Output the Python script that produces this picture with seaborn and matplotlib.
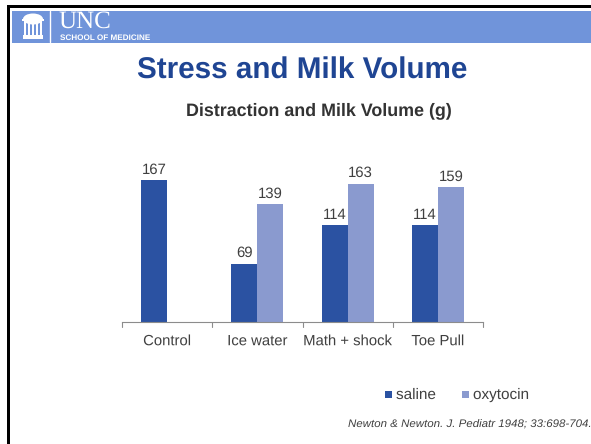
import matplotlib
matplotlib.use("Agg")
import matplotlib.pyplot as plt
from matplotlib.patches import Ellipse, Rectangle
import matplotlib.patheffects as pe
import pandas as pd
import seaborn as sns

categories = ["Control", "Ice water", "Math + shock", "Toe Pull"]
saline = [167, 69, 114, 114]
oxytocin = [None, 139, 163, 159]
treatments = ["saline", "oxytocin"]
colors = ["#2B52A2", "#8A9ACF"]

W, H = 591, 444
sns.set_theme(style="white")
plt.rcParams["font.family"] = ["Liberation Sans", "DejaVu Sans"]
plt.rcParams["text.hinting"] = "no_hinting"

# Outline rendering keeps labels on a common baseline regardless of their glyphs
as_path = [pe.Normal()]

df = pd.DataFrame({
    "stressor": categories * 2,
    "treatment": ["saline"] * 4 + ["oxytocin"] * 4,
    "grams": saline + oxytocin,
})

fig = plt.figure(figsize=(W / 100, H / 100), dpi=100, facecolor="white")

# Slide frame and header band
bg = fig.add_axes([0, 0, 1, 1], zorder=0)
bg.set_xlim(0, W)
bg.set_ylim(H, 0)
bg.axis("off")
bg.add_patch(Rectangle((7, 5), W - 7, 3, color="black", lw=0))
bg.add_patch(Rectangle((7, 5), 3, H - 5, color="black", lw=0))
bg.add_patch(Rectangle((12, 11), W - 12, 32, color="#7094DA", lw=0))

# Old Well emblem in the header
bg.add_patch(Ellipse((33, 19), 20, 11, color="white", lw=0))
bg.add_patch(Rectangle((22, 19), 22, 2, color="white", lw=0))
for col_x in [24, 28, 32, 36, 40]:
    bg.add_patch(Rectangle((col_x, 21), 2.2, 14, color="white", lw=0))
bg.add_patch(Rectangle((23, 35), 20, 4, color="white", lw=0))
bg.plot([49.5, 49.5], [11, 42], color="white", lw=1)
bg.text(58.5, 28, "UNC", color="white", fontsize=18, family="Liberation Serif", va="baseline")
bg.text(60, 38, "SCHOOL OF MEDICINE", color="white", fontsize=5.85, fontweight="bold", va="center")

bg.text(302, 71, "Stress and Milk Volume", color="#1F4593", fontsize=21.3,
        fontweight="bold", ha="center", va="center")
bg.text(318.5, 111, "Distraction and Milk Volume (g)", color="#333333", fontsize=12.9,
        fontweight="bold", ha="center", va="center")

# Bars
ax = fig.add_axes([122 / W, 1 - 322.3 / H, 361 / W, 142.3 / H], zorder=1)
ax.patch.set_alpha(0)
sns.barplot(data=df, x="stressor", y="grams", hue="treatment", hue_order=treatments,
            palette=colors, saturation=1, width=0.576, gap=0, legend=False, ax=ax,
            edgecolor="none", linewidth=0)
ax.set_xlim(-0.5, 3.5)
ax.set_ylim(0, 167.5)
ax.set_xlabel("")
ax.set_ylabel("")
ax.set_yticks([])
for side in ["top", "left", "right"]:
    ax.spines[side].set_visible(False)
ax.spines["bottom"].set_color("#8C8C8C")
ax.spines["bottom"].set_linewidth(0.8)
ax.set_xticks(range(len(categories)))
ax.set_xticklabels(categories, fontsize=10.7, color="#404040", va="baseline",
                   path_effects=as_path)
ax.tick_params(axis="x", length=0, pad=16.5)
for edge in range(5):
    ax.plot([edge - 0.5] * 2, [0, -5], color="#8C8C8C", lw=0.8, clip_on=False)

for cont in ax.containers:
    for bar in cont:
        h = bar.get_height()
        if h and h == h:
            ax.annotate(f"{h:.0f}", (bar.get_x() + bar.get_width() / 2, h),
                        xytext=(0, 2.5), textcoords="offset points",
                        ha="center", va="bottom", fontsize=10.7, color="#404040")

# Legend and citation
for x, c, name in zip([385, 462], colors, treatments):
    bg.add_patch(Rectangle((x, 391), 7, 7, color=c, lw=0))
    bg.text(x + 11, 399, name, fontsize=11, color="#404040", va="baseline",
            path_effects=as_path)
bg.text(348, 424.5, "Newton & Newton. J. Pediatr 1948; 33:698-704.", fontsize=8.25,
        style="italic", color="#404040", va="center")

fig.savefig("out.png", dpi=100)
